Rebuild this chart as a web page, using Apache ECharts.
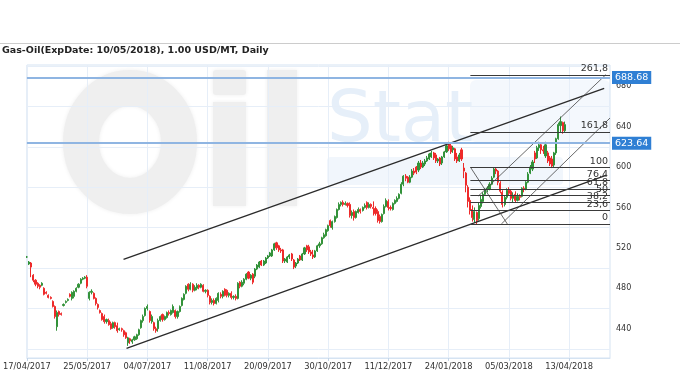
<!DOCTYPE html>
<html><head><meta charset="utf-8">
<script src="https://cdn.jsdelivr.net/npm/echarts@6/dist/echarts.min.js"></script>
<style>html,body{margin:0;padding:0;background:#fff}#c{width:680px;height:380px}</style>
</head><body><div id="c"></div>
<script>
const tickLabels = ['17/04/2017','25/05/2017','04/07/2017','11/08/2017','20/09/2017','30/10/2017','11/12/2017','24/01/2018','05/03/2018','13/04/2018'];
const nCategories = 272;
const categories = Array.from({length: nCategories}, (_, i) => 'd' + i);

const opens = [511,504,505,493,488,485,483,483,480,476,473,471,467,462,442,457,455,463,466,468,474,470,472,477,481,485,489,490,491,470,476,475,470,464,458,455,452,447,448,445,441,446,443,439,440,438,436,426,430,427,429,430,434,441,448,453,460,457,447,446,440,440,448,454,449,451,456,454,456,458,452,457,463,469,475,484,479,484,478,480,483,481,483,477,478,472,466,468,465,468,474,472,479,478,473,475,471,472,470,486,482,485,489,496,490,494,492,499,501,507,503,505,510,512,512,518,525,522,518,518,507,506,511,514,508,502,505,512,508,514,522,521,516,513,511,517,522,524,530,532,537,547,540,546,550,558,563,565,563,564,563,552,556,550,555,558,557,560,565,560,563,560,559,556,551,546,554,561,566,560,558,564,566,569,574,583,591,590,585,590,596,600,597,604,600,603,606,608,610,614,612,606,609,604,610,615,623,621,617,618,610,606,617,599,594,580,567,558,548,555,549,561,566,573,577,578,583,590,598,596,584,575,563,570,577,576,569,573,567,571,571,579,578,585,594,598,614,609,619,622,617,611,614,609,608,602,614,628,641,644,636];
const closes = [511,506,501,488,484,482,481,485,474,475,471,470,462,452,456,454,454,464,467,469,472,476,477,480,484,489,490,491,482,476,477,470,465,461,456,449,447,449,444,440,446,442,438,440,439,434,431,431,428,429,432,434,439,448,452,460,462,448,452,440,438,448,452,449,452,456,455,458,462,452,457,462,470,474,482,479,484,478,481,483,481,484,477,478,473,466,468,465,470,475,472,477,473,473,475,471,472,470,485,482,486,489,494,490,493,486,499,503,506,503,507,510,512,515,518,524,520,518,517,507,509,511,513,509,501,505,509,508,514,520,518,516,514,511,517,522,524,530,533,538,542,542,546,551,558,563,565,563,564,562,552,555,550,556,558,556,560,562,560,563,561,559,554,547,546,553,561,567,560,559,564,567,569,573,583,591,589,585,590,596,594,595,604,600,604,606,609,613,614,609,606,608,603,610,615,621,618,615,619,608,606,612,608,596,582,566,557,550,556,547,562,568,573,577,579,583,589,598,596,585,576,563,570,577,574,569,572,567,571,570,579,578,585,593,600,605,608,619,622,617,616,622,606,603,601,614,628,642,645,636,642];
const lows = [510,503,491,486,482,480,479,482,473,474,470,469,461,450,438,452,453,462,465,467,471,468,470,476,480,484,488,489,480,468,474,469,463,459,455,448,445,445,443,439,440,440,436,438,437,432,430,423,425,425,428,429,433,440,446,452,458,446,445,438,436,437,447,447,448,450,453,453,455,450,450,456,462,468,474,477,478,476,477,478,479,480,476,475,471,464,464,463,464,466,470,470,472,471,471,469,469,468,469,480,481,483,488,489,488,484,490,498,500,502,502,504,509,511,511,517,518,516,515,505,505,505,509,507,499,500,504,507,507,513,516,514,512,509,510,516,520,523,529,531,536,540,538,545,549,557,561,561,562,560,550,549,547,549,554,554,556,559,558,559,559,552,552,545,544,545,553,560,557,557,557,563,565,568,573,581,586,584,584,589,592,593,595,598,599,601,605,607,609,607,604,604,601,602,609,614,616,613,614,606,604,605,606,589,575,560,553,546,545,543.6,547,559,564,572,575,577,582,589,593,582,574,560,561,568,572,567,565,565,566,567,570,575,577,584,593,596,604,608,616,613,613,609,604,601,599,600,612,627,634,633,634];
const highs = [512,507,506,494,489,486,484,486,481,477,474,472,468,463,458,458,456,465,468,470,475,477,478,481,485,490,491,492,493,477,479,476,471,465,459,456,454,450,450,447,447,447,446,441,441,439,437,432,431,430,433,435,440,449,454,461,464,458,454,447,442,450,453,455,453,457,458,459,464,459,458,463,471,475,483,485,486,485,483,485,484,485,484,479,479,473,470,470,471,476,476,478,480,479,476,477,473,474,486,487,488,490,495,497,494,495,500,504,507,508,508,511,513,516,519,525,526,523,520,519,510,512,514,515,509,506,510,513,515,521,523,523,518,518,518,523,526,531,535,539,543,548,547,552,559,565,566,567,566,565,565,557,558,557,560,559,561,564,566,565,564,566,561,558,553,554,563,569,568,562,565,568,571,574,585,592,593,591,592,598,599,601,606,607,606,608,611,614,616,615,614,609,610,611,616,623,625,624,621,619,614,614,619,604,595,582,570,562,560,556,565,572,575,579,581,585,591,600,600,597,586,577,572,579,580,578,575,576,574,573,580,581,586,595,602,607,616,621,625,624,621,625,616,611,611,615,629,644,650,645,645];

const priceLevels = [688.68, 623.64];
const fibValues = [543.6, 556.9, 565.1, 571.8, 578.5, 586.7, 600.0, 634.9, 691.3];
const fibLabels = ['0', '23,6', '38,2', '50', '61,8', '76,4', '100', '161,8', '261,8'];
const fibStartX = 206.1, fibEndX = 271;
const channelUpper = [[44.9, 508.7], [268.3, 677.9]];
const channelLower = [[46.3, 420.6], [269.4, 592.1]];
const thinUpper = [[209.8, 571.3], [269.1, 691.5]];
const thinLower = [[220.5, 543.6], [271, 648.5]];
const fibDiagonal = [[206.1, 600.0], [223.3, 543.6]];

const candleData = opens.map((o, i) => [o, closes[i], lows[i], highs[i]]);
const FONT = '"DejaVu Sans", Verdana, sans-serif';

function seg(pts, color, width) {
  return [{coord: pts[0], lineStyle: {color: color, width: width, type: 'solid'}}, {coord: pts[1]}];
}
const mlData = [
  seg(channelUpper, '#2b2b2b', 1.3),
  seg(channelLower, '#2b2b2b', 1.3),
  seg(thinUpper, '#444', 0.8),
  seg(thinLower, '#444', 0.8),
  seg(fibDiagonal, '#444', 0.8)
];
fibValues.forEach((v, k) => {
  mlData.push([{coord: [fibStartX, v], lineStyle: {color: '#3a3a3a', width: 1, type: 'solid'},
    label: {show: true, position: 'insideEndTop', formatter: fibLabels[k], distance: [2, 1],
            fontSize: 9.5, color: '#333', fontFamily: FONT}},
    {coord: [fibEndX, v]}]);
});
priceLevels.forEach(v => {
  mlData.push({yAxis: v, lineStyle: {color: '#8fb5e2', width: 2, type: 'solid'},
    label: {show: true, position: 'end', formatter: v.toFixed(2), distance: 2,
            backgroundColor: '#2f7fd4', color: '#fff', padding: [2, 3, 1, 3],
            fontSize: 9.5, fontFamily: FONT}});
});

const WM = '#efefef';
const wm = (o) => Object.assign({silent: true, zlevel: -1, z: 0}, o);
const chart = echarts.init(document.getElementById('c'), null, {renderer: 'canvas'});
chart.setOption({
  animation: false,
  backgroundColor: '#fff',
  graphic: {elements: [
    {type: 'line', silent: true, shape: {x1: 0, y1: 43.5, x2: 680, y2: 43.5}, style: {stroke: '#cccccc', lineWidth: 1}},
    {type: 'text', silent: true, left: 2, top: 46, style: {text: 'Gas-Oil(ExpDate: 10/05/2018), 1.00 USD/MT, Daily', font: 'bold 9.5px ' + FONT, fill: '#222'}},
    wm({type: 'rect', shape: {x: 470, y: 80, width: 140, height: 62, r: 6}, style: {fill: '#f4f8fd'}}),
    wm({type: 'rect', shape: {x: 327, y: 157, width: 236, height: 28, r: 4}, style: {fill: '#f1f6fc'}}),
    wm({type: 'ellipse', shape: {cx: 130, cy: 142, rx: 49, ry: 54}, style: {fill: 'none', stroke: WM, lineWidth: 36, shadowBlur: 4, shadowColor: WM}}),
    wm({type: 'rect', shape: {x: 213, y: 70, width: 33, height: 25, r: 3}, style: {fill: WM, shadowBlur: 4, shadowColor: WM}}),
    wm({type: 'rect', shape: {x: 213, y: 102, width: 33, height: 104}, style: {fill: WM, shadowBlur: 4, shadowColor: WM}}),
    wm({type: 'rect', shape: {x: 267, y: 70, width: 30, height: 136}, style: {fill: WM, shadowBlur: 4, shadowColor: WM}}),
    wm({type: 'text', left: 327, top: 86, style: {text: 'Stat', font: '72px "DejaVu Sans", sans-serif', fill: '#e6eff9'}})
  ]},
  grid: {left: 25, right: 70, top: 65, bottom: 22, show: true, borderColor: '#d5e3f2', borderWidth: 1},
  xAxis: [{
    type: 'category', data: categories, boundaryGap: false,
    axisLine: {lineStyle: {color: '#d5e3f2'}},
    axisTick: {show: true, interval: 27, length: 3, lineStyle: {color: '#c5d6e8'}},
    axisLabel: {interval: 27, margin: 5, fontSize: 8.3, color: '#333', fontFamily: FONT,
      formatter: (v, i) => (i % 28 === 0 && tickLabels[i / 28]) ? tickLabels[i / 28] : ''},
    splitLine: {show: true, interval: 27, lineStyle: {color: '#e6eef8'}}
  }, {
    type: 'value', min: 0, max: 271, show: false
  }],
  yAxis: {
    type: 'value', position: 'right', min: 411, max: 701, minInterval: 20, maxInterval: 20, splitNumber: 14,
    axisLine: {show: false}, axisTick: {show: false},
    axisLabel: {margin: 6, fontSize: 8, color: '#333', fontFamily: FONT,
      formatter: v => (v % 40 === 0 ? String(v) : '')},
    splitLine: {show: true, lineStyle: {color: ['rgba(0,0,0,0)', '#e6eef8']}}
  },
  series: [{
    type: 'candlestick', data: candleData, barWidth: 1.6,
    itemStyle: {color: '#33923a', color0: '#ee2a2a', borderColor: '#33923a', borderColor0: '#ee2a2a', borderWidth: 1}
  }, {
    type: 'line', xAxisIndex: 1, yAxisIndex: 0, data: [], silent: true,
    markLine: {symbol: ['none', 'none'], silent: true, animation: false, label: {show: false}, data: mlData}
  }]
});
</script></body></html>
